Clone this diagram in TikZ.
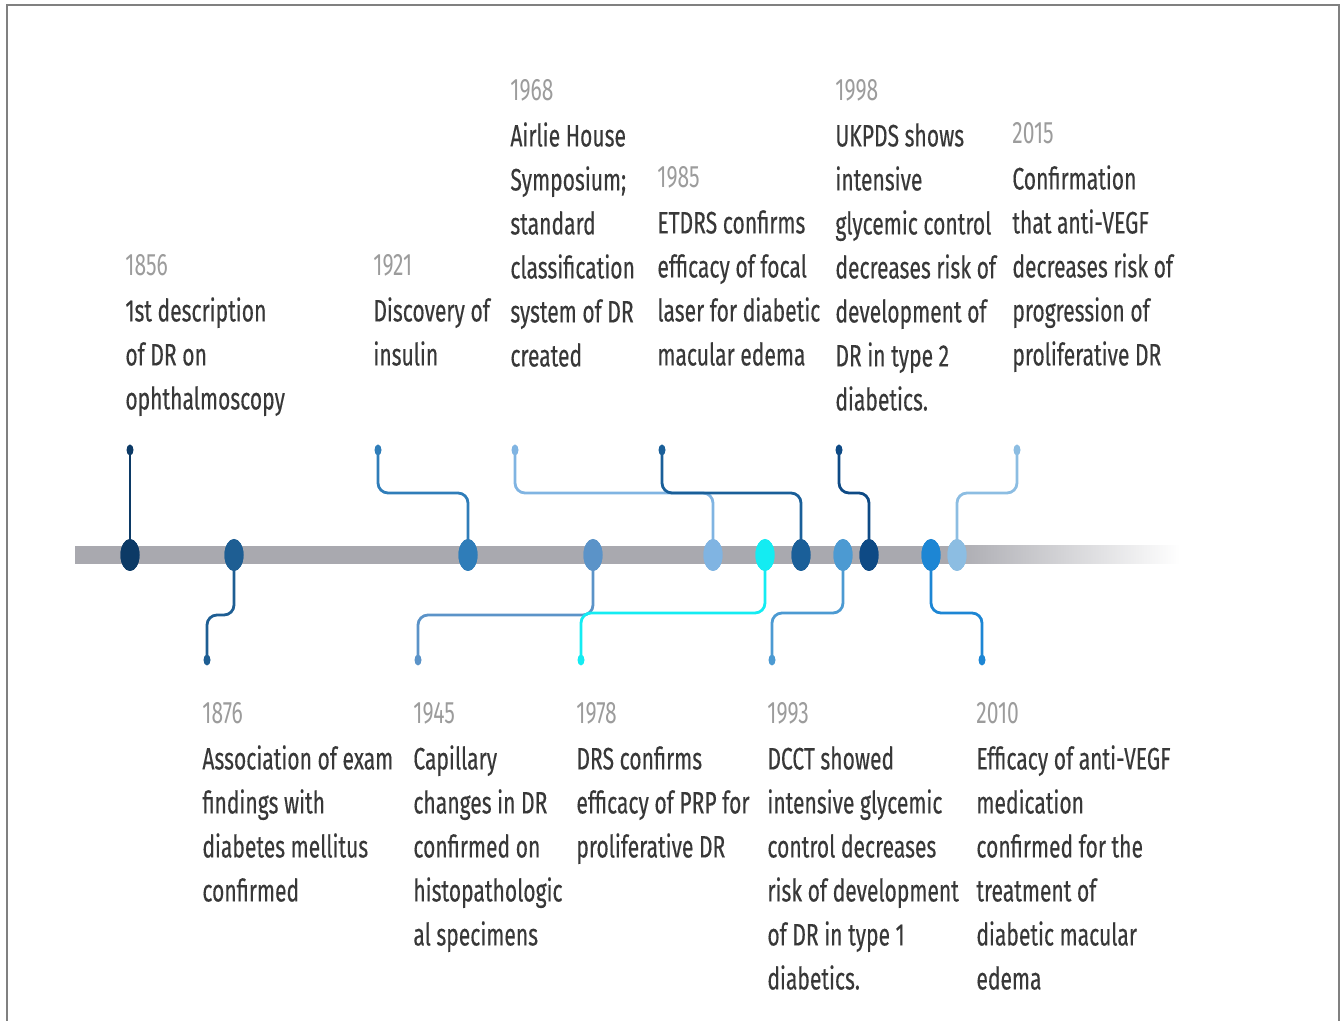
\documentclass[tikz,border=0pt]{standalone}
\usepackage{fontspec}
\setmainfont{Fira Sans}[FakeStretch=0.68, FakeBold=0.3]
\newfontfamily\yrfont{Fira Sans}[FakeStretch=0.68]
\usetikzlibrary{shapes.geometric}
\definecolor{framec}{HTML}{808080}
\definecolor{barc}{HTML}{A9A9AF}
\definecolor{txtc}{HTML}{383838}
\definecolor{yrc}{HTML}{9C9C9C}
\definecolor{cA}{HTML}{0C3A66}
\definecolor{cB}{HTML}{1E5E93}
\definecolor{cC}{HTML}{2F7DB9}
\definecolor{cD}{HTML}{5B93C8}
\definecolor{cE}{HTML}{80B4E2}
\definecolor{cF}{HTML}{14ECF2}
\definecolor{cG}{HTML}{1A5F99}
\definecolor{cH}{HTML}{4C9AD2}
\definecolor{cI}{HTML}{0E4A85}
\definecolor{cJ}{HTML}{1D86D4}
\definecolor{cK}{HTML}{8CBDE2}
\newcommand\yr[1]{{\yrfont\textcolor{yrc}{#1}}}
\begin{document}
\begin{tikzpicture}[x=0.5pt,y=-0.5pt,
  bigdot/.style={ellipse, minimum width=9.5pt, minimum height=16pt, inner sep=0pt, fill=#1},
  enddot/.style={ellipse, minimum width=3.5pt, minimum height=5.5pt, inner sep=0pt, fill=#1},
  conn/.style={line width=1.4pt, rounded corners=5pt, draw=#1},
  lbl/.style={anchor=north west, inner sep=0pt, align=left, text=txtc, font=\fontsize{15.5}{22}\selectfont}]
\useasboundingbox (0,0) rectangle (1341,1021);
% frame
\draw[framec, line width=1pt] (7,1021) -- (7,5) -- (1339,5) -- (1339,1021);
% bar
\fill[barc] (75,546) rectangle (950,564);
\shade[left color=barc, right color=white] (949,546) rectangle (1180,564);
% dots on bar
\node[bigdot=cA] (d1856) at (130,555) {};
\node[bigdot=cB] (d1876) at (234,555) {};
\node[bigdot=cC] (d1921) at (468,555) {};
\node[bigdot=cD] (d1945) at (593,555) {};
\node[bigdot=cE] (d1968) at (713,555) {};
\node[bigdot=cF] (d1978) at (765,555) {};
\node[bigdot=cG] (d1985) at (801,555) {};
\node[bigdot=cH] (d1993) at (843,555) {};
\node[bigdot=cI] (d1998) at (869,555) {};
\node[bigdot=cJ] (d2010) at (931,555) {};
\node[bigdot=cK] (d2015) at (957,555) {};
% end dots
\node[enddot=cA] (e1856) at (130,450) {};
\node[enddot=cB] (e1876) at (207,660) {};
\node[enddot=cC] (e1921) at (378,450) {};
\node[enddot=cD] (e1945) at (418,660) {};
\node[enddot=cE] (e1968) at (515,450) {};
\node[enddot=cF] (e1978) at (581,660) {};
\node[enddot=cG] (e1985) at (662,450) {};
\node[enddot=cH] (e1993) at (772,660) {};
\node[enddot=cI] (e1998) at (839,450) {};
\node[enddot=cJ] (e2010) at (982,660) {};
\node[enddot=cK] (e2015) at (1017,450) {};
% connectors
\draw[conn=cA] (e1856.center) -- (d1856.center);
\draw[conn=cC] (e1921.center) -- ++(0,43) -| (d1921.center);
\draw[conn=cE] (e1968.center) -- ++(0,43) -| (d1968.center);
\draw[conn=cG] (e1985.center) -- ++(0,43) -| (d1985.center);
\draw[conn=cI] (e1998.center) -- ++(0,43) -| (d1998.center);
\draw[conn=cK] (e2015.center) -- ++(0,43) -| (d2015.center);
\draw[conn=cB] (d1876.center) -- ++(0,60) -| (e1876.center);
\draw[conn=cD] (d1945.center) -- ++(0,60) -| (e1945.center);
\draw[conn=cF] (d1978.center) -- ++(0,58) -| (e1978.center);
\draw[conn=cH] (d1993.center) -- ++(0,58) -| (e1993.center);
\draw[conn=cJ] (d2010.center) -- ++(0,58) -| (e2010.center);
% redraw dots over connectors
\foreach \n/\c in {d1856/cA,d1876/cB,d1921/cC,d1945/cD,d1968/cE,d1978/cF,d1985/cG,d1993/cH,d1998/cI,d2010/cJ,d2015/cK}
  \fill[\c] (\n.center) ellipse [x radius=9.5, y radius=16];
% labels top
\node[lbl] (t1856) at (125,254) {\yr{1856}\\[1pt]1st description\\of DR on\\ophthalmoscopy};
\node[lbl] (t1921) at (373,254) {\yr{1921}\\[1pt]Discovery of\\insulin};
\node[lbl] (t1968) at (510,79) {\yr{1968}\\[1pt]Airlie House\\Symposium;\\standard\\classification\\system of DR\\created};
\node[lbl] (t1985) at (657,166) {\yr{1985}\\[1pt]ETDRS confirms\\efficacy of focal\\laser for diabetic\\macular edema};
\node[lbl] (t1998) at (835,79) {\yr{1998}\\[1pt]UKPDS shows\\intensive\\glycemic control\\decreases risk of\\development of\\DR in type 2\\diabetics.};
\node[lbl] (t2015) at (1012,122) {\yr{2015}\\[1pt]Confirmation\\that anti-VEGF\\decreases risk of\\progression of\\proliferative DR};
% labels bottom
\node[lbl] (t1876) at (202,702) {\yr{1876}\\[1pt]Association of exam\\findings with\\diabetes mellitus\\confirmed};
\node[lbl] (t1945) at (413,702) {\yr{1945}\\[1pt]Capillary\\changes in DR\\confirmed on\\histopathologic\\al specimens};
\node[lbl] (t1978) at (576,702) {\yr{1978}\\[1pt]DRS confirms\\efficacy of PRP for\\proliferative DR};
\node[lbl] (t1993) at (767,702) {\yr{1993}\\[1pt]DCCT showed\\intensive glycemic\\control decreases\\risk of development\\of DR in type 1\\diabetics.};
\node[lbl] (t2010) at (976,702) {\yr{2010}\\[1pt]Efficacy of anti-VEGF\\medication\\confirmed for the\\treatment of\\diabetic macular\\edema};
\end{tikzpicture}
\end{document}
